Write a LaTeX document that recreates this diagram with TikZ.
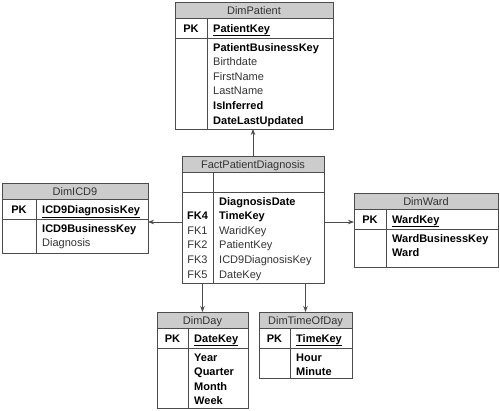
\documentclass[tikz,border=0pt]{standalone}
\usepackage{fontspec}
\setmainfont{Liberation Sans}
\usetikzlibrary{arrows.meta,positioning}
\definecolor{hdrgray}{gray}{0.8}
\definecolor{linegray}{gray}{0.3}
\definecolor{txtgray}{gray}{0.2}
\newcommand{\erfont}{\fontsize{11}{13}\selectfont}
% table frame: name, left, top, right, bottom, divider, title
\newcommand{\ertable}[7]{%
  \fill[hdrgray] (#2,#3) rectangle (#4,#3+16);
  \node[tblbox, minimum width={#4pt-#2pt}, minimum height={#5pt-#3pt}] (#1) at (#2,#3) {};
  \draw[tblline] (#2,#3+16) -- (#4,#3+16) (#2,#3+36) -- (#4,#3+36) (#6,#3+16) -- (#6,#5);
  \node[hdrtext] at ({(#2+#4)/2},#3+12) {#7};
}
% primary key row: left, divider, top, key
\newcommand{\pkrow}[4]{%
  \node[bfield, anchor=base] at ({(#1+#2)/2},#3+30) {PK};
  \node[bfield] at (#2+6,#3+30) {\underline{#4}};
}
% body rows: divider, top, list of text/style
\newcommand{\errows}[3]{%
  \foreach \t/\s [count=\i from 0] in {#3}
    \node[\s] at (#1+6,{#2+49+\i*14.6}) {\t};
}
\begin{document}
\begin{tikzpicture}[x=1pt, y=-1pt, >={Stealth[length=6pt,width=4.5pt]},
  tblbox/.style={draw=linegray, line width=0.8pt, inner sep=0pt, outer sep=0pt, anchor=north west},
  tblline/.style={draw=linegray, line width=0.8pt},
  field/.style={anchor=base west, inner sep=0pt, font=\erfont, text=txtgray},
  bfield/.style={field, font=\erfont\bfseries, text=black},
  hdrtext/.style={anchor=base, inner sep=0pt, font=\erfont, text=txtgray},
  fk/.style={->, draw=linegray, line width=0.8pt}]
\useasboundingbox (0,0) rectangle (500,410);

% dimension and fact tables
\ertable{pat}{175}{2}{333}{129}{207}{DimPatient}
\pkrow{175}{207}{2}{PatientKey}
\errows{207}{2}{PatientBusinessKey/bfield, Birthdate/field, FirstName/field, LastName/field, IsInferred/bfield, DateLastUpdated/bfield}

\ertable{fact}{182}{156}{324}{283}{213}{FactPatientDiagnosis}
\errows{213}{156}{DiagnosisDate/bfield, TimeKey/bfield, WaridKey/field, PatientKey/field, ICD9DiagnosisKey/field, DateKey/field}
\foreach \k/\s [count=\i] in {FK4/bfield, FK1/field, FK2/field, FK3/field, FK5/field}
  \node[\s, anchor=base] at (197.5,{205+\i*14.6}) {\k};

\ertable{icd}{2}{183}{148}{253}{36}{DimICD9}
\pkrow{2}{36}{183}{ICD9DiagnosisKey}
\errows{36}{183}{ICD9BusinessKey/bfield, Diagnosis/field}

\ertable{ward}{354}{193}{498}{267}{386}{DimWard}
\pkrow{354}{386}{193}{WardKey}
\errows{386}{193}{WardBusinessKey/bfield, Ward/bfield}

\ertable{day}{157}{312}{248}{408}{188}{DimDay}
\pkrow{157}{188}{312}{DateKey}
\errows{188}{312}{Year/bfield, Quarter/bfield, Month/bfield, Week/bfield}

\ertable{time}{259}{312}{352}{378}{290}{DimTimeOfDay}
\pkrow{259}{290}{312}{TimeKey}
\errows{290}{312}{Hour/bfield, Minute/bfield}

% relationships
\draw[fk] (fact.north) -- (fact.north |- pat.south);
\draw[fk] ([yshift=-2.5pt]fact.west) -- ([yshift=-2.5pt]fact.west -| icd.east);
\draw[fk] ([yshift=-2.5pt]fact.east) -- ([yshift=-2.5pt]fact.east -| ward.west);
\draw[fk] (fact.south -| day.north) -- (day.north);
\draw[fk] (fact.south -| time.north) -- (time.north);
\end{tikzpicture}
\end{document}
